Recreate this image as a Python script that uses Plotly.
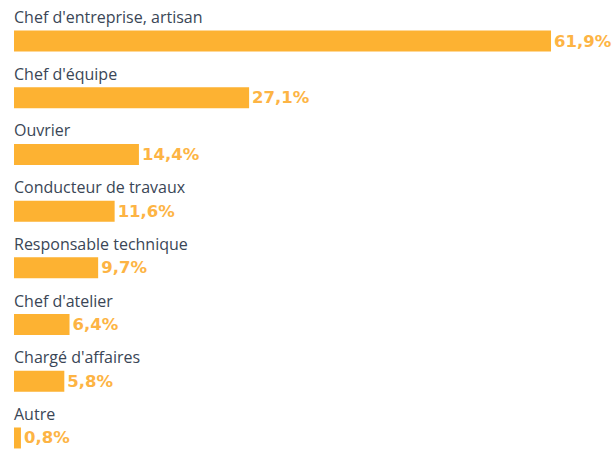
import plotly.graph_objects as go

categories = ["Chef d'entreprise, artisan", "Chef d'équipe", "Ouvrier", "Conducteur de travaux",
              "Responsable technique", "Chef d'atelier", "Chargé d'affaires", "Autre"]
values = [61.9, 27.1, 14.4, 11.6, 9.7, 6.4, 5.8, 0.8]
value_labels = [f"{v:.1f}".replace(".", ",") + "%" for v in values]

BAR = "#FDB232"
pos = list(range(len(categories)))

fig = go.Figure()
fig.add_trace(go.Bar(
    x=values, y=pos, orientation="h",
    marker=dict(color=BAR, line=dict(width=0)),
    width=0.37,
    text=value_labels, textposition="outside", constraintext="none",
    textfont=dict(family="DejaVu Sans", size=16.5, color="#FDB444", weight="bold"),
    cliponaxis=False, hoverinfo="skip",
))
for i, c in zip(pos, categories):
    fig.add_annotation(x=0, y=i, xref="x", yref="y", text=c, showarrow=False,
                       xanchor="left", yanchor="middle", yshift=24, xshift=-1,
                       borderpad=0,
                       font=dict(family="Open Sans", size=16, color="#3a4656"))

fig.update_layout(
    width=616, height=450, margin=dict(l=14, r=0, t=0, b=0),
    paper_bgcolor="white", plot_bgcolor="white", showlegend=False,
    xaxis=dict(range=[0, 69.39], visible=False, fixedrange=True),
    yaxis=dict(range=[7.212, -0.723], visible=False, fixedrange=True),
)
fig.write_html("out.html", config={"displayModeBar": False},
               post_script="document.body.style.margin='0';")
